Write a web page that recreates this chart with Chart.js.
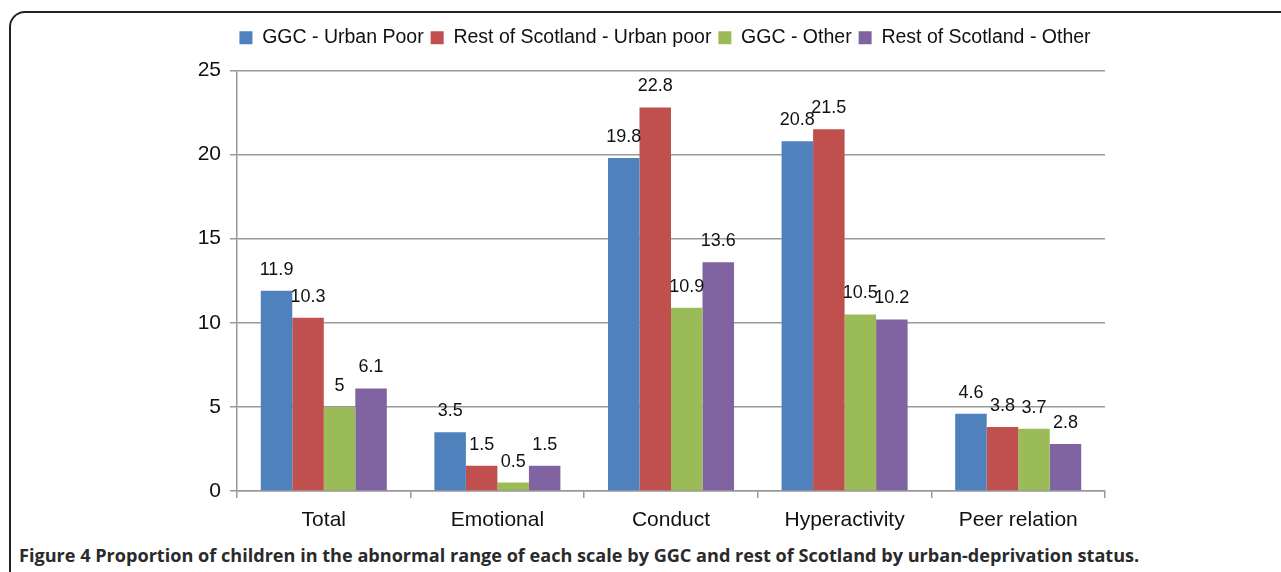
<!DOCTYPE html>
<html>
<head>
<meta charset="utf-8">
<script src="https://cdn.jsdelivr.net/npm/chart.js@4"></script>
<style>
  body { margin: 0; background: #fff; overflow: hidden; }
  .marco {
    position: absolute; left: 9px; top: 11px; width: 1400px; height: 700px;
    border-left: 2px solid #222; border-top: 2px solid #222;
    border-top-left-radius: 16px;
  }
  .grafica { position: absolute; left: 0; top: 0; width: 1281px; height: 540px; }
  .pie {
    position: absolute; left: 19px; top: 543px; white-space: nowrap;
    font-family: "Open Sans", sans-serif; font-weight: bold; font-size: 18.1px; color: #2a2a2a;
  }
</style>
</head>
<body>
<div class="marco"></div>
<div class="grafica"><canvas id="myChart" width="1281" height="540"></canvas></div>
<div class="pie">Figure 4 Proportion of children in the abnormal range of each scale by GGC and rest of Scotland by urban-deprivation status.</div>
<script>
const categorias = ['Total', 'Emotional', 'Conduct', 'Hyperactivity', 'Peer relation'];
const series = ['GGC - Urban Poor', 'Rest of Scotland - Urban poor', 'GGC - Other', 'Rest of Scotland - Other'];
const ggcUrbanPoor = [11.9, 3.5, 19.8, 20.8, 4.6];
const restoUrbanPoor = [10.3, 1.5, 22.8, 21.5, 3.8];
const ggcOther = [5, 0.5, 10.9, 10.5, 3.7];
const restoOther = [6.1, 1.5, 13.6, 10.2, 2.8];
const ticksY = [0, 5, 10, 15, 20, 25];
const colores = ['#4F81BD', '#C0504D', '#9BBB59', '#8064A2'];

const valores = [ggcUrbanPoor, restoUrbanPoor, ggcOther, restoOther];
const fuente = '"Liberation Sans", Arial, sans-serif';

// etiquetas encima de cada barra
const etiquetas = {
  id: 'etiquetas',
  afterDatasetsDraw(chart) {
    const ctx = chart.ctx;
    ctx.save();
    ctx.font = '18px ' + fuente;
    ctx.fillStyle = '#111';
    ctx.textAlign = 'center';
    ctx.textBaseline = 'middle';
    chart.data.datasets.forEach((ds, i) => {
      chart.getDatasetMeta(i).data.forEach((bar, j) => {
        ctx.fillText(String(ds.data[j]), bar.x, bar.y - 21);
      });
    });
    ctx.restore();
  }
};

// mover la leyenda: centrada sobre la grafica y un poco mas arriba
const moverLeyenda = {
  id: 'moverLeyenda',
  afterLayout(chart) {
    const l = chart.legend;
    l.left += 14; l.right += 14;
    l.top -= 13; l.bottom -= 13;
  }
};

new Chart(document.getElementById('myChart').getContext('2d'), {
  type: 'bar',
  data: {
    labels: categorias,
    datasets: series.map((s, i) => ({
      label: s,
      data: valores[i],
      backgroundColor: colores[i],
      borderWidth: 0,
      categoryPercentage: 0.726,
      barPercentage: 1
    }))
  },
  options: {
    responsive: false,
    animation: false,
    devicePixelRatio: 1,
    layout: { padding: { left: 197, right: 176, top: 34, bottom: 0 } },
    plugins: {
      tooltip: { enabled: false },
      legend: {
        position: 'top',
        labels: {
          boxWidth: 13, boxHeight: 13, padding: 7,
          color: '#111',
          font: { family: fuente, size: 19.5 }
        }
      }
    },
    scales: {
      x: {
        afterFit: s => { s.height = 49; },
        grid: { drawOnChartArea: false, drawTicks: true, tickLength: 7, color: '#999', lineWidth: 1.5, offset: true },
        border: { color: '#999', width: 1.5 },
        ticks: { color: '#111', padding: 10, font: { family: fuente, size: 21 } }
      },
      y: {
        min: 0, max: 25,
        afterFit: s => { s.width = 40; },
        afterBuildTicks: s => { s.ticks = ticksY.map(v => ({ value: v })); },
        grid: { color: '#999', lineWidth: 1.5, tickLength: 7 },
        border: { color: '#999', width: 1.5 },
        ticks: { color: '#111', padding: 9, font: { family: fuente, size: 21 } }
      }
    }
  },
  plugins: [etiquetas, moverLeyenda]
});
</script>
</body>
</html>
